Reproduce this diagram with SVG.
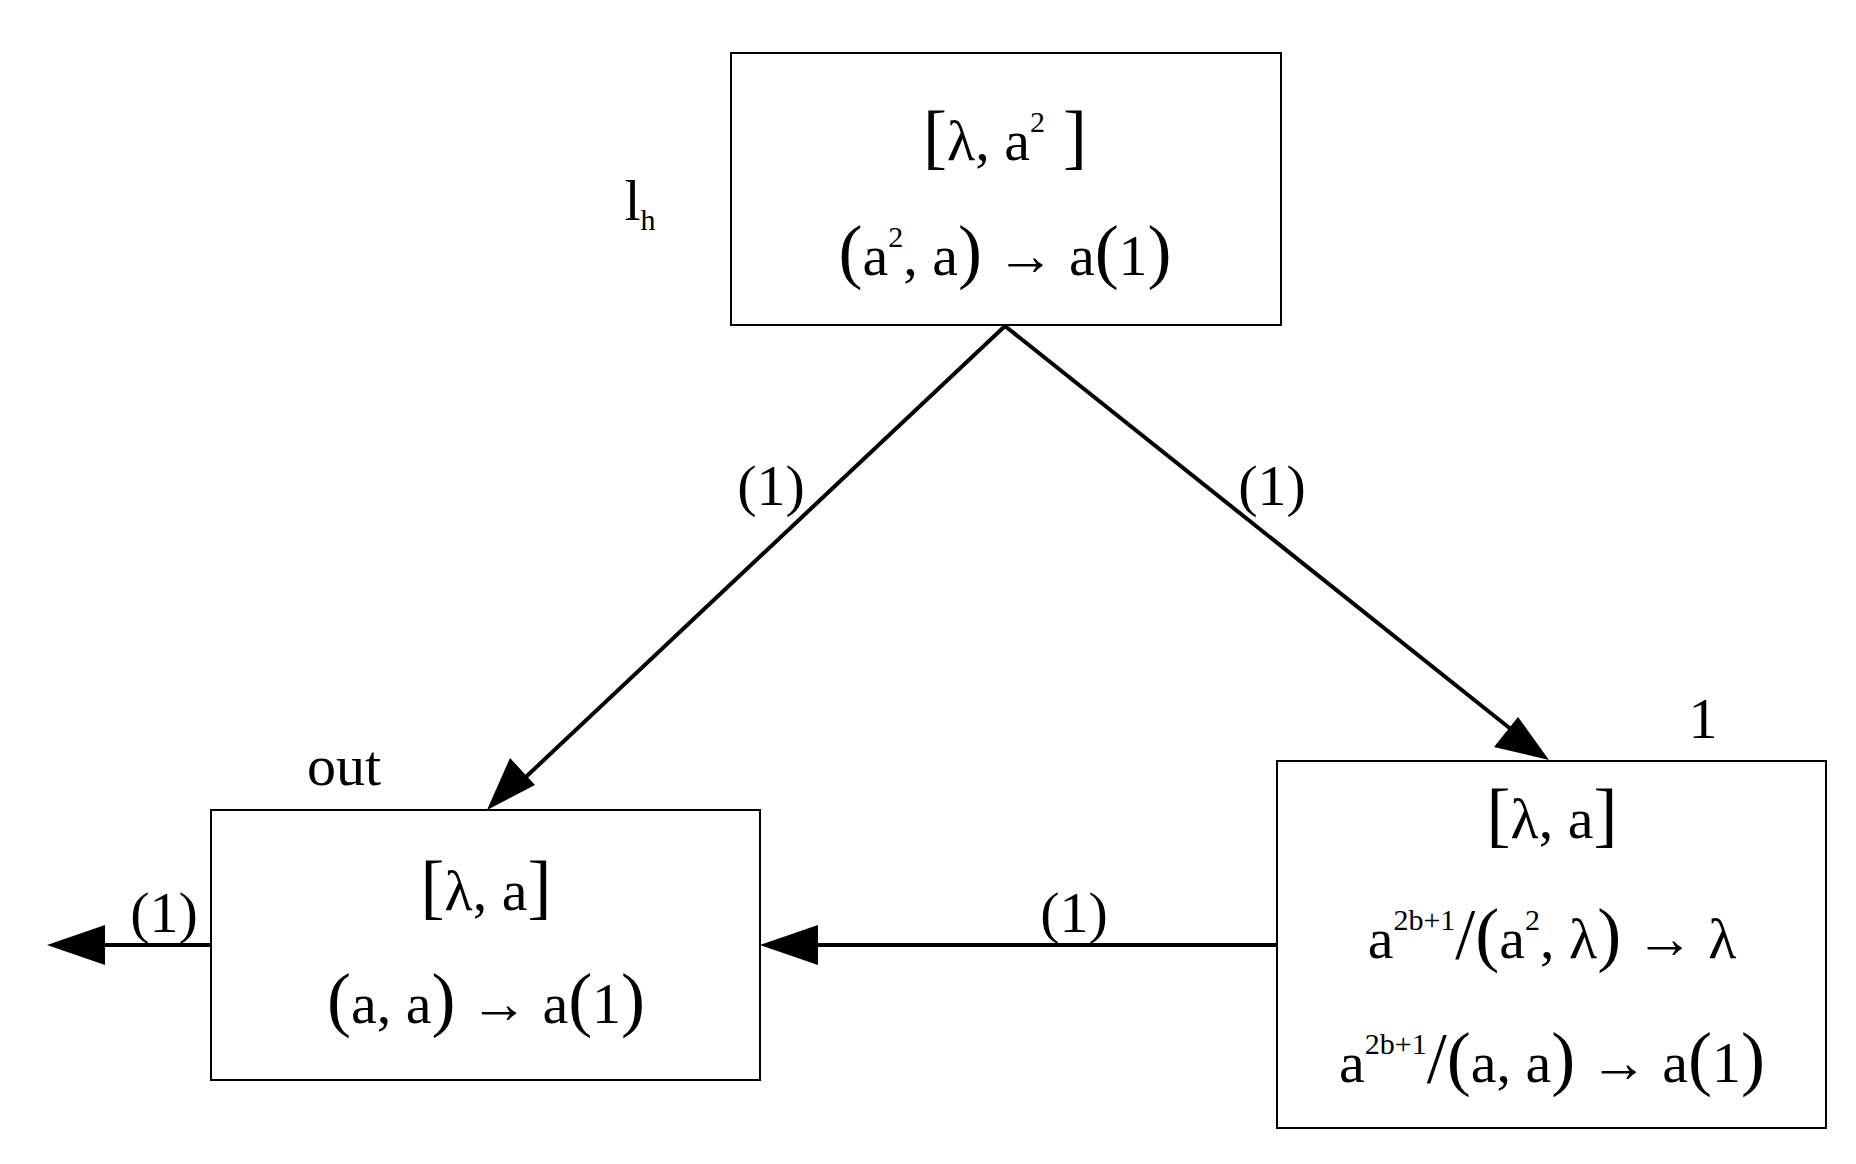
<svg xmlns="http://www.w3.org/2000/svg" width="1856" height="1164" viewBox="0 0 1856 1164">
<style>
.box{fill:#fff;stroke:#000;stroke-width:2}
.t{font-family:"Liberation Serif",serif;font-size:58px;text-anchor:middle;fill:#000}
.b{font-size:72px}
.s{font-size:30px}
.e{stroke:#000;stroke-width:4;fill:none}
</style>
<defs><marker id="ah" markerWidth="12" markerHeight="8" refX="12" refY="4" orient="auto" markerUnits="userSpaceOnUse" viewBox="0 0 12 8" style="overflow:visible"><path d="M0,0 L12,4 L0,8z" transform="scale(4.5)" transform-origin="12 4"/></marker></defs>
<rect width="1856" height="1164" fill="#fff"/>
<g id="edges">
<line class="e" x1="1005" y1="326" x2="512" y2="790"/><path d="M487,810 L510,758 L535,785z"/>
<line class="e" x1="1005" y1="326" x2="1522" y2="738"/><path d="M1549,760 L1494,747 L1518,717z"/>
<line class="e" x1="1277" y1="945" x2="800" y2="945"/><path d="M760,945 L818,925 L818,965z"/>
<line class="e" x1="211" y1="945" x2="90" y2="945"/><path d="M47,945 L105,925 L105,965z"/>
<text class="t" x="771" y="505">(1)</text>
<text class="t" x="1272" y="505">(1)</text>
<text class="t" x="1074" y="932">(1)</text>
<text class="t" x="164" y="932">(1)</text>
</g>
<g id="top">
<rect class="box" x="731" y="53" width="550" height="272"/>
<text class="t" x="1005" y="160"><tspan class="b">[</tspan>λ, a<tspan class="s" dy="-28">2</tspan><tspan class="b" dy="28"> ]</tspan></text>
<text class="t" x="1005" y="275"><tspan class="b">(</tspan>a<tspan class="s" dy="-28">2</tspan><tspan dy="28">, a</tspan><tspan class="b">)</tspan> → a<tspan class="b">(</tspan>1<tspan class="b">)</tspan></text>
<text class="t" x="640" y="220">l<tspan class="s" dy="10">h</tspan></text>
</g>
<g id="out">
<rect class="box" x="211" y="810" width="549" height="270"/>
<text class="t" x="486" y="910"><tspan class="b">[</tspan>λ, a<tspan class="b">]</tspan></text>
<text class="t" x="486" y="1023"><tspan class="b">(</tspan>a, a<tspan class="b">)</tspan> → a<tspan class="b">(</tspan>1<tspan class="b">)</tspan></text>
<text class="t" x="344" y="785">out</text>
</g>
<g id="n1">
<rect class="box" x="1277" y="761" width="549" height="367"/>
<text class="t" x="1552" y="838"><tspan class="b">[</tspan>λ, a<tspan class="b">]</tspan></text>
<text class="t" x="1552" y="958">a<tspan class="s" dy="-28">2b+1</tspan><tspan class="b" dy="28">/(</tspan>a<tspan class="s" dy="-28">2</tspan><tspan dy="28">, λ</tspan><tspan class="b">)</tspan> → λ</text>
<text class="t" x="1552" y="1082">a<tspan class="s" dy="-28">2b+1</tspan><tspan class="b" dy="28">/(</tspan>a, a<tspan class="b">)</tspan> → a<tspan class="b">(</tspan>1<tspan class="b">)</tspan></text>
<text class="t" x="1703" y="738">1</text>
</g>
</svg>
